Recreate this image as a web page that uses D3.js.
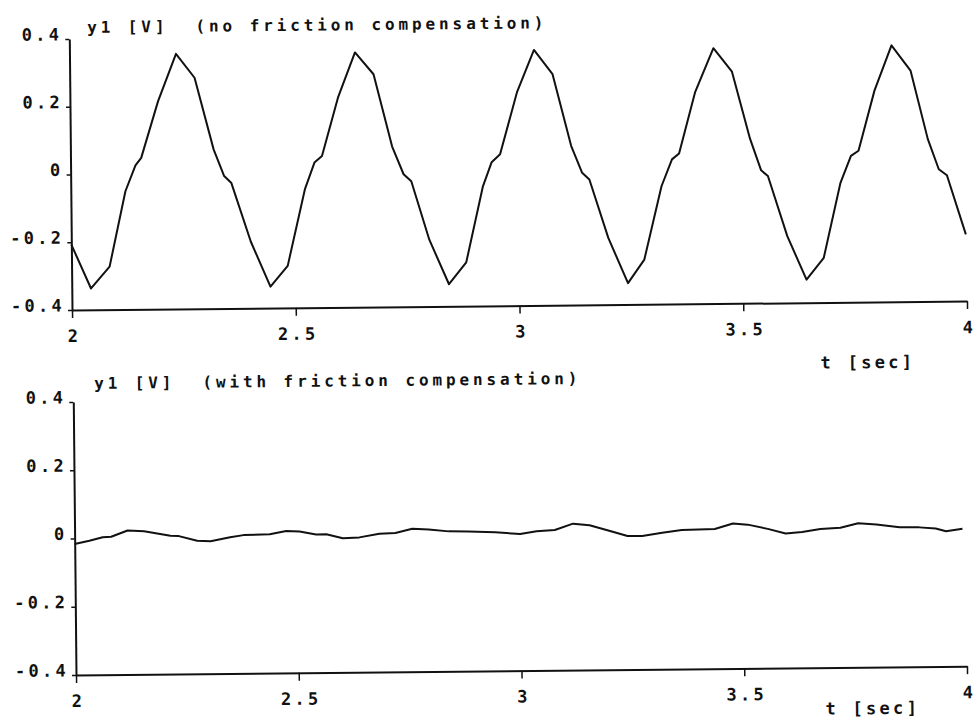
<!DOCTYPE html>
<html>
<head>
<meta charset="utf-8">
<script src="https://cdn.jsdelivr.net/npm/d3@7"></script>
<style>
  body { margin: 0; background: #fff; }
  svg text { font-family: "DejaVu Sans Mono", monospace; font-weight: bold; fill: #111; white-space: pre; }
</style>
</head>
<body>
<svg id="chart" width="975" height="726"></svg>
<script>
// y1 without friction compensation (upper trace, read against its own axes)
const tTop = [2.000, 2.043, 2.085, 2.122, 2.145, 2.158, 2.197, 2.238, 2.279, 2.320, 2.343, 2.359, 2.401,
  2.444, 2.483, 2.523, 2.545, 2.562, 2.599, 2.638, 2.679, 2.719, 2.744, 2.761, 2.800,
  2.843, 2.882, 2.921, 2.941, 2.960, 2.999, 3.038, 3.079, 3.119, 3.143, 3.159, 3.200,
  3.243, 3.280, 3.320, 3.344, 3.360, 3.397, 3.439, 3.480, 3.519, 3.543, 3.558, 3.600,
  3.642, 3.681, 3.720, 3.744, 3.761, 3.798, 3.837, 3.879, 3.916, 3.940, 3.958, 3.999];
const yTop = [-0.207, -0.337, -0.273, -0.051, 0.025, 0.047, 0.214, 0.353, 0.282, 0.070, -0.009, -0.030, -0.203,
  -0.337, -0.276, -0.051, 0.028, 0.047, 0.219, 0.352, 0.287, 0.073, -0.009, -0.030, -0.203,
  -0.335, -0.271, -0.047, 0.024, 0.047, 0.229, 0.354, 0.282, 0.070, -0.010, -0.030, -0.203,
  -0.337, -0.268, -0.052, 0.027, 0.044, 0.224, 0.354, 0.284, 0.085, -0.008, -0.025, -0.203,
  -0.332, -0.268, -0.047, 0.032, 0.047, 0.224, 0.357, 0.282, 0.080, -0.010, -0.028, -0.203];

// y1 with friction compensation (lower trace)
const tBot = [2.000, 2.033, 2.063, 2.082, 2.119, 2.156, 2.215, 2.234, 2.275, 2.305, 2.349, 2.379, 2.438,
  2.475, 2.505, 2.542, 2.565, 2.602, 2.639, 2.684, 2.720, 2.758, 2.795, 2.840, 2.884, 2.944,
  3.000, 3.037, 3.078, 3.119, 3.156, 3.200, 3.241, 3.274, 3.319, 3.363, 3.437, 3.478, 3.511,
  3.556, 3.596, 3.633, 3.674, 3.719, 3.759, 3.800, 3.852, 3.896, 3.933, 3.956, 3.993];
const yBot = [-0.016, -0.007, 0.003, 0.004, 0.022, 0.019, 0.005, 0.004, -0.010, -0.012, -0.001, 0.005, 0.007,
  0.016, 0.014, 0.005, 0.005, -0.007, -0.005, 0.005, 0.007, 0.019, 0.016, 0.010, 0.009, 0.006,
  0.000, 0.008, 0.011, 0.029, 0.024, 0.007, -0.009, -0.009, 0.000, 0.007, 0.009, 0.025, 0.021,
  0.008, -0.006, -0.002, 0.006, 0.009, 0.022, 0.018, 0.009, 0.008, 0.004, -0.004, 0.003];

const xTicks = [2, 2.5, 3, 3.5, 4];
const yTicks = [0.4, 0.2, 0, -0.2, -0.4];
const xTickLabels = ['2', '2.5', '3', '3.5', '4'];
const yTickLabels = ['0.4', '0.2', '0', '-0.2', '-0.4'];

const svg = d3.select('#chart');
const LS = 3.3;      // letter spacing of the plotter font
const TILT = -0.57;  // the scanned page is turned a little

function drawPanel(p) {
    const x = d3.scaleLinear().domain([2, 4]).range([p.left, p.right]);
    const y = d3.scaleLinear().domain([-0.4, 0.4]).range([p.bottom, p.top]);
    const g = svg.append('g')
        .attr('transform', `rotate(${TILT},${p.left},${p.bottom})`);

    // y axis, ticks point left, label sits just above its tick
    const ya = g.append('g')
        .attr('transform', `translate(${p.left},0)`)
        .call(d3.axisLeft(y).tickValues(yTicks).tickSize(4).tickSizeOuter(0)
            .tickFormat((d, i) => yTickLabels[i]));
    ya.select('.domain').attr('stroke', '#111').attr('stroke-width', 2);
    ya.selectAll('.tick line').attr('stroke', '#111').attr('stroke-width', 1.5);
    ya.selectAll('.tick text')
        .attr('x', -7).attr('dy', '0.05em')
        .style('font-size', '17px').style('letter-spacing', LS + 'px')
        .style('font-family', '"DejaVu Sans Mono", monospace');

    // x axis, ticks point down
    const xa = g.append('g')
        .attr('transform', `translate(0,${p.bottom})`)
        .call(d3.axisBottom(x).tickValues(xTicks).tickSize(8).tickSizeOuter(0)
            .tickFormat((d, i) => xTickLabels[i]));
    xa.select('.domain').attr('stroke', '#111').attr('stroke-width', 2);
    xa.selectAll('.tick line').attr('stroke', '#111').attr('stroke-width', 1.5);
    xa.selectAll('.tick text')
        .attr('y', 32).attr('dy', 0).attr('dx', LS / 2)
        .style('font-size', '17px').style('letter-spacing', LS + 'px')
        .style('font-family', '"DejaVu Sans Mono", monospace');

    // the trace
    const pts = p.t.map((t, i) => [t, p.v[i]]);
    g.append('path')
        .datum(pts)
        .attr('fill', 'none')
        .attr('stroke', '#111')
        .attr('stroke-width', 2)
        .attr('stroke-linejoin', 'round')
        .attr('d', d3.line().x(d => x(d[0])).y(d => y(d[1])));

    g.append('text')
        .attr('x', p.titleX).attr('y', p.titleY)
        .style('font-size', '16px').style('letter-spacing', '3.9px')
        .text(p.title);

    g.append('text')
        .attr('x', p.unitX).attr('y', p.unitY)
        .style('font-size', '17px').style('letter-spacing', LS + 'px')
        .text('t [sec]');
}

drawPanel({
    t: tTop, v: yTop,
    left: 72, right: 967, top: 39, bottom: 310,
    title: 'y1 [V]  (no friction compensation)', titleX: 90, titleY: 33,
    unitX: 820, unitY: 376
});

drawPanel({
    t: tBot, v: yBot,
    left: 76, right: 967, top: 402, bottom: 675,
    title: 'y1 [V]  (with friction compensation)', titleX: 97, titleY: 389,
    unitX: 825, unitY: 722
});
</script>
</body>
</html>
